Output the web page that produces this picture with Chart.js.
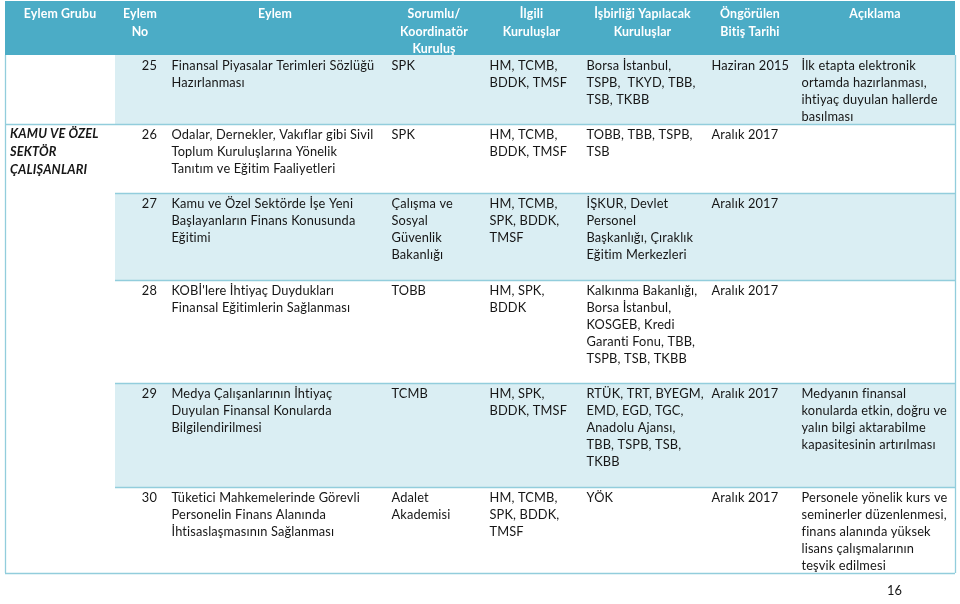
<!DOCTYPE html>
<html lang="tr">
<head>
<meta charset="utf-8">
<title>Eylem Tablosu</title>
<script src="https://cdn.jsdelivr.net/npm/chart.js@4/dist/chart.umd.min.js"></script>
<style>
  html, body { margin: 0; padding: 0; background: #ffffff; }
  #wrap { width: 960px; height: 604px; position: relative; }
</style>
</head>
<body>
<div id="wrap"><canvas id="c" width="960" height="604"></canvas></div>
<script>
// ---------------- DATA ----------------
const headers = ["Eylem Grubu", "Eylem\nNo", "Eylem", "Sorumlu/\nKoordinatör\nKuruluş", "İlgili\nKuruluşlar", "İşbirliği Yapılacak\nKuruluşlar", "Öngörülen\nBitiş Tarihi", "Açıklama"];
const groupLabel = "KAMU VE ÖZEL\nSEKTÖR\nÇALIŞANLARI";
const actionNo = ["25", "26", "27", "28", "29", "30"];
const actions = [
  "Finansal Piyasalar Terimleri Sözlüğü\nHazırlanması",
  "Odalar, Dernekler, Vakıflar gibi Sivil\nToplum Kuruluşlarına Yönelik\nTanıtım ve Eğitim Faaliyetleri",
  "Kamu ve Özel Sektörde İşe Yeni\nBaşlayanların Finans Konusunda\nEğitimi",
  "KOBİ'lere İhtiyaç Duydukları\nFinansal Eğitimlerin Sağlanması",
  "Medya Çalışanlarının İhtiyaç\nDuyulan Finansal Konularda\nBilgilendirilmesi",
  "Tüketici Mahkemelerinde Görevli\nPersonelin Finans Alanında\nİhtisaslaşmasının Sağlanması"
];
const responsible = ["SPK", "SPK", "Çalışma ve\nSosyal\nGüvenlik\nBakanlığı", "TOBB", "TCMB", "Adalet\nAkademisi"];
const related = ["HM, TCMB,\nBDDK, TMSF", "HM, TCMB,\nBDDK, TMSF", "HM, TCMB,\nSPK, BDDK,\nTMSF", "HM, SPK,\nBDDK", "HM, SPK,\nBDDK, TMSF", "HM, TCMB,\nSPK, BDDK,\nTMSF"];
const partners = [
  "Borsa İstanbul,\nTSPB,  TKYD, TBB,\nTSB, TKBB",
  "TOBB, TBB, TSPB,\nTSB",
  "İŞKUR, Devlet\nPersonel\nBaşkanlığı, Çıraklık\nEğitim Merkezleri",
  "Kalkınma Bakanlığı,\nBorsa İstanbul,\nKOSGEB, Kredi\nGaranti Fonu, TBB,\nTSPB, TSB, TKBB",
  "RTÜK, TRT, BYEGM,\nEMD, EGD, TGC,\nAnadolu Ajansı,\nTBB, TSPB, TSB,\nTKBB",
  "YÖK"
];
const deadlines = ["Haziran 2015", "Aralık 2017", "Aralık 2017", "Aralık 2017", "Aralık 2017", "Aralık 2017"];
const notes = [
  "İlk etapta elektronik\nortamda hazırlanması,\nihtiyaç duyulan hallerde\nbasılması",
  "", "", "",
  "Medyanın finansal\nkonularda etkin, doğru ve\nyalın bilgi aktarabilme\nkapasitesinin artırılması",
  "Personele yönelik kurs ve\nseminerler düzenlenmesi,\nfinans alanında yüksek\nlisans çalışmalarının\nteşvik edilmesi"
];
const pageNumber = "16";

// ---------------- LAYOUT / STYLE ----------------
const colEdges = [5, 115, 165, 385, 483, 580, 705, 795, 955];
const rowEdges = [55, 124, 193, 280, 383, 487, 573];
const headerTop = 1;
const headerBaselines = [18, 35.5, 53];
const groupBaselines = [138, 156, 174];
const firstBaselineOffset = 14.5;
const lineStep = 17;
const padLeft = 6.5;
const COLORS = { header: "#4BACC6", shade: "#DAEEF3", line: "#92CDDC", text: "#161616", headerText: "#ffffff" };
const FAMILY = "Lato, 'Open Sans', sans-serif";
const SPACING = "0.15px"; // non-zero spacing also switches off Lato's "ti" ligature

function fitSize(ctx, weight, sample, target) {
  ctx.letterSpacing = SPACING;
  ctx.font = weight + " 20px " + FAMILY;
  return 20 * target / ctx.measureText(sample).width;
}

const tablePlugin = {
  id: "tablePlugin",
  afterDraw(chart) {
    const ctx = chart.ctx;
    const X = v => chart.scales.x.getPixelForValue(v);
    const Y = v => chart.scales.y.getPixelForValue(v);
    ctx.save();
    const regSize = fitSize(ctx, "normal", "Finansal Piyasalar Terimleri Sözlüğü", 201);
    const boldSize = fitSize(ctx, "bold", "Eylem Grubu", 72);
    const biSize = fitSize(ctx, "italic bold", "KAMU VE ÖZEL", 88);
    ctx.letterSpacing = SPACING;

    // header background
    ctx.fillStyle = COLORS.header;
    ctx.fillRect(X(colEdges[0]), Y(headerTop), X(colEdges[colEdges.length - 1]) - X(colEdges[0]), Y(rowEdges[0]) - Y(headerTop));

    // shaded rows (alternate)
    for (let r = 0; r < actionNo.length; r++) {
      if (r % 2 === 0) {
        ctx.fillStyle = COLORS.shade;
        ctx.fillRect(X(colEdges[1]), Y(rowEdges[r]), X(colEdges[8]) - X(colEdges[1]), Y(rowEdges[r + 1]) - Y(rowEdges[r]));
      }
    }

    // lines
    ctx.strokeStyle = COLORS.line;
    ctx.lineWidth = 1.3;
    const hline = (x0, x1, y) => { ctx.beginPath(); ctx.moveTo(X(x0), Y(y) + 0.5); ctx.lineTo(X(x1), Y(y) + 0.5); ctx.stroke(); };
    const vline = (x, y0, y1) => { ctx.beginPath(); ctx.moveTo(X(x) + 0.5, Y(y0)); ctx.lineTo(X(x) + 0.5, Y(y1)); ctx.stroke(); };
    vline(colEdges[0], rowEdges[0], rowEdges[6]);
    vline(colEdges[8], rowEdges[0], rowEdges[6]);
    hline(colEdges[0], colEdges[8], rowEdges[1]);
    for (let r = 2; r < 6; r++) hline(colEdges[1], colEdges[8], rowEdges[r]);
    hline(colEdges[0], colEdges[8], rowEdges[6]);

    // header text
    ctx.fillStyle = COLORS.headerText;
    ctx.font = "bold " + boldSize.toFixed(2) + "px " + FAMILY;
    ctx.textAlign = "center";
    ctx.textBaseline = "alphabetic";
    headers.forEach((h, c) => {
      const cx = (X(colEdges[c]) + X(colEdges[c + 1])) / 2;
      h.split("\n").forEach((ln, i) => ctx.fillText(ln, cx, Y(headerBaselines[i])));
    });

    // group label
    ctx.fillStyle = COLORS.text;
    ctx.textAlign = "left";
    ctx.font = "italic bold " + biSize.toFixed(2) + "px " + FAMILY;
    groupLabel.split("\n").forEach((ln, i) => ctx.fillText(ln, X(colEdges[0] + 5), Y(groupBaselines[i])));

    // body
    ctx.font = "normal " + regSize.toFixed(2) + "px " + FAMILY;
    const columns = [actions, responsible, related, partners, deadlines, notes];
    for (let r = 0; r < actionNo.length; r++) {
      const base = rowEdges[r] + firstBaselineOffset;
      ctx.textAlign = "right";
      ctx.fillText(actionNo[r], X(colEdges[2] - 8), Y(base));
      ctx.textAlign = "left";
      columns.forEach((col, k) => {
        const txt = col[r];
        if (!txt) return;
        txt.split("\n").forEach((ln, i) => ctx.fillText(ln, X(colEdges[k + 2] + padLeft), Y(base + i * lineStep)));
      });
    }

    // page number
    ctx.textAlign = "left";
    ctx.fillText(pageNumber, X(887), Y(595));
    ctx.restore();
  }
};

new Chart(document.getElementById("c"), {
  type: "scatter",
  data: { datasets: [{ data: [], showLine: false }] },
  options: {
    responsive: false,
    devicePixelRatio: 1,
    animation: false,
    layout: { padding: 0 },
    scales: {
      x: { type: "linear", min: 0, max: 960, display: false },
      y: { type: "linear", min: 0, max: 604, reverse: true, display: false }
    },
    plugins: { legend: { display: false }, tooltip: { enabled: false }, title: { display: false } }
  },
  plugins: [tablePlugin]
});
</script>
</body>
</html>
